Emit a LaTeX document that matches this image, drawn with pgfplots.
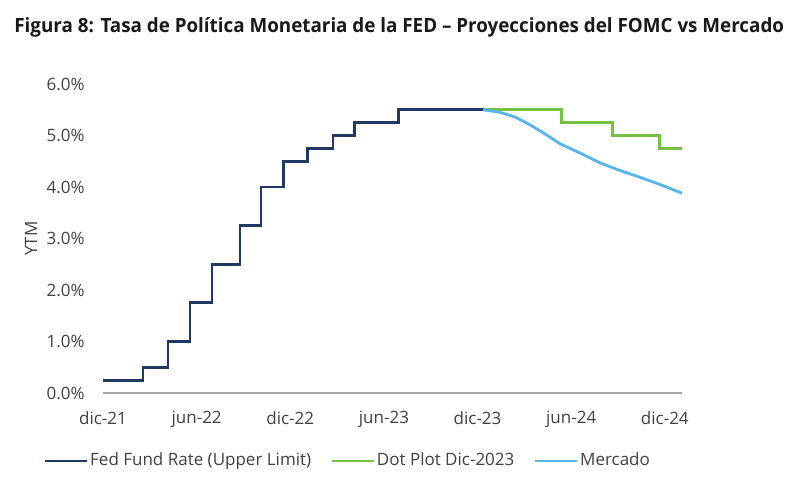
\documentclass[border=0pt]{standalone}
\usepackage{pgfplots}
\pgfplotsset{compat=1.18}
\usepackage{fontspec}
\setmainfont{Open Sans}
\newfontfamily\titlefont[FakeStretch=0.96]{Open Sans}

\definecolor{fedblue}{RGB}{31,56,100}
\definecolor{dotgreen}{RGB}{118,192,67}
\definecolor{mktblue}{RGB}{86,180,238}
\definecolor{axisgray}{RGB}{165,165,165}
\definecolor{txtgray}{RGB}{64,64,64}

\begin{document}
\begin{tikzpicture}
\begin{axis}[
    name=ax,
    scale only axis,
    width=289.5pt, height=154.5pt,
    xmin=0, xmax=37.1,
    ymin=0, ymax=6,
    axis y line*=left,
    y axis line style={draw=none},
    axis x line*=bottom,
    x axis line style={axisgray, line width=0.7pt},
    tick style={draw=none},
    xtick={0,6,12,18,24,30,36},
    xticklabels={dic-21,jun-22,dic-22,jun-23,dic-23,jun-24,dic-24},
    ytick={0,1,2,3,4,5,6},
    yticklabels={0.0\%,1.0\%,2.0\%,3.0\%,4.0\%,5.0\%,6.0\%},
    /pgf/number format/assume math mode=true,
    ticklabel style={font=\fontsize{8.5}{10}\selectfont, text=txtgray},
    xticklabel style={anchor=north, inner sep=0pt, yshift=-9pt},
    yticklabel style={anchor=east, inner sep=0pt, xshift=-9pt},
    ylabel={YTM},
    every axis y label/.style={at={([xshift=-36pt]axis description cs:0,0.5)},
        rotate=90, anchor=center, font=\fontsize{8.5}{10}\selectfont, text=txtgray},
    title={Figura 8: Tasa de Política Monetaria de la FED – Proyecciones del FOMC vs Mercado},
    every axis title/.style={at={(axis description cs:-0.1537,1.1845)}, anchor=west, inner sep=0pt,
        font=\titlefont\bfseries\fontsize{9.8}{11}\selectfont, text=black!90},
    legend columns=3,
    legend style={at={(axis description cs:-0.1036,-0.22)}, anchor=west,
        draw=none, fill=none, inner sep=0pt,
        font=\fontsize{8.5}{10}\selectfont, text=txtgray,
        /tikz/every odd column/.append style={column sep=0pt},
        /tikz/every even column/.append style={column sep=8.5pt},
        nodes={inner sep=1pt}},
    legend image code/.code={\draw[#1] (0pt,0pt) -- (21pt,0pt);},
    clip=false,
]
% Fed funds upper limit, step changes
\addplot[const plot, fedblue, line width=1.4pt] coordinates {
    (0,0.25) (2.56,0.5) (4.17,1.0) (5.58,1.75) (6.99,2.5) (8.78,3.25)
    (10.13,4.0) (11.54,4.5) (13.08,4.75) (14.74,5.0) (16.09,5.25)
    (18.91,5.5) (24.34,5.5)};
\addlegendentry{Fed Fund Rate (Upper Limit)}
% dot plot dic-2023
\addplot[const plot, dotgreen, line width=1.4pt] coordinates {
    (24.34,5.5) (29.36,5.25) (32.63,5.0) (35.64,4.75) (37.1,4.75)};
\addlegendentry{Dot Plot Dic-2023}
% market implied
\addplot[mktblue, line width=1.4pt] coordinates {
    (24.34,5.50) (25.43,5.45) (26.39,5.36) (27.35,5.21) (28.32,5.03)
    (29.28,4.84) (30.56,4.66) (31.84,4.47) (33.12,4.32) (34.40,4.19)
    (35.68,4.05) (37.1,3.88)};
\addlegendentry{Mercado}
\end{axis}
\pgfresetboundingbox
\path ([xshift=-51.5pt,yshift=-42pt]ax.south west) rectangle ([xshift=59pt,yshift=42pt]ax.north east);
\end{tikzpicture}
\end{document}
